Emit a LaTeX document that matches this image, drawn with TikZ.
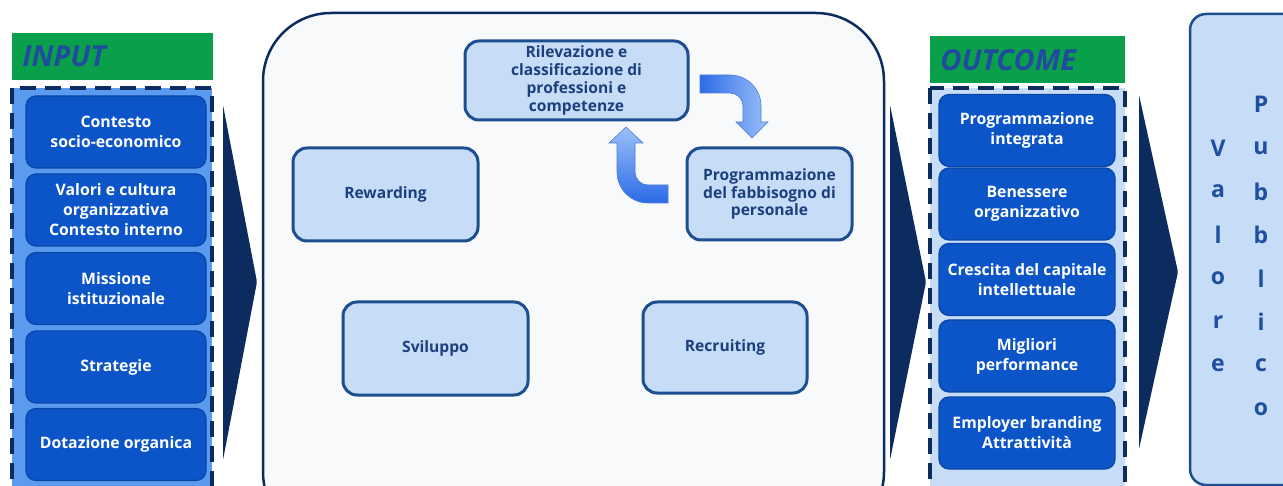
\documentclass[tikz,border=0pt]{standalone}
\usepackage{fontspec}
\setmainfont{Open Sans}
\definecolor{headgreen}{HTML}{0AA04B}
\definecolor{headtext}{HTML}{1F4C9E}
\definecolor{navy}{HTML}{0C2B5E}
\definecolor{inblue}{HTML}{5A9BEF}
\definecolor{paleblue}{HTML}{C6DCF7}
\definecolor{boxblue}{HTML}{0B55C9}
\definecolor{boxline}{HTML}{0A46A6}
\definecolor{cycleline}{HTML}{1D4F90}
\definecolor{cycletext}{HTML}{1E3F7E}
\definecolor{framefill}{HTML}{F8F9FB}
\definecolor{arrowdark}{HTML}{2A6BE6}
\definecolor{arrowlight}{HTML}{9CC0F8}
\definecolor{arrowline}{HTML}{4A7FD8}
\definecolor{letterblue}{HTML}{1F4F9F}

\begin{document}
\begin{tikzpicture}[x=1pt,y=-1pt,thick,
  head/.style={fill=headgreen,minimum height=47pt,inner xsep=10pt,text=headtext,
    font=\bfseries\itshape\fontsize{29}{32}\selectfont,anchor=west},
  frame/.style={draw=navy,line width=4pt,dash pattern=on 16pt off 9pt},
  dark/.style={draw=boxline,fill=boxblue,rounded corners=10pt,line width=1.2pt,text=white,
    font=\bfseries\fontsize{15.8}{20}\selectfont,align=center,minimum height=72pt},
  light/.style={draw=cycleline,fill=paleblue,rounded corners=14pt,line width=3pt,text=cycletext,
    font=\bfseries\fontsize{15.6}{17.8}\selectfont,align=center},
  chevron/.style={fill=navy,rounded corners=2pt},
  loopbend/.style={draw=arrowline,line width=0.6pt},
  letter/.style={text=letterblue,font=\bfseries\fontsize{23}{26}\selectfont}]

  \useasboundingbox (0,0) rectangle (1283,486);
  \clip (0,0) rectangle (1283,486);

  % input column
  \node[head,minimum width=201pt,text width=181pt] (in_head) at (12,56.5) {INPUT};
  \draw[frame,fill=inblue] (12,88) rectangle (212,500);
  \node[dark,minimum width=180pt] (in1) at (116,132) {Contesto\\socio-economico};
  \node[dark,minimum width=180pt] (in2) at (116,210) {Valori e cultura\\organizzativa\\Contesto interno};
  \node[dark,minimum width=180pt] (in3) at (116,288.5) {Missione\\istituzionale};
  \node[dark,minimum width=180pt] (in4) at (116,367) {Strategie};
  \node[dark,minimum width=180pt] (in5) at (116,444.5) {Dotazione organica};

  \fill[chevron] (223,105) -- (257,282) -- (223,460) -- cycle;

  % central cycle
  \draw[draw=navy,fill=framefill,line width=2.5pt,rounded corners=68pt] (263,13) rectangle (884,540);
  \node[light,minimum width=223pt,minimum height=79pt] (ril) at (576.5,80.5)
    {Rilevazione e\\classificazione di\\professioni e\\competenze};
  \node[light,minimum width=165pt,minimum height=92pt] (fabb) at (769.5,194)
    {Programmazione\\del fabbisogno di\\personale};
  \node[light,minimum width=185pt,minimum height=93pt] (rew) at (385.5,194.5) {Rewarding};
  \node[light,minimum width=185pt,minimum height=93pt] (svi) at (435.5,348.5) {Sviluppo};
  \node[light,minimum width=164pt,minimum height=91pt] (rec) at (725,347.5) {Recruiting};

  \draw[loopbend,left color=arrowdark,right color=arrowlight]
    (700,75) -- (730,75) arc[start angle=-90,end angle=0,radius=31] -- (761,122) -- (768,122)
    -- (752,138) -- (736,122) -- (743,122) -- (743,106) arc[start angle=0,end angle=-90,radius=13]
    -- (700,93) -- cycle;
  \draw[loopbend,top color=arrowlight,bottom color=arrowdark]
    (668,185) -- (648,185) arc[start angle=90,end angle=180,radius=13] -- (635,143) -- (643,143)
    -- (626,127) -- (609,143) -- (617,143) -- (617,172) arc[start angle=180,end angle=90,radius=31]
    -- (668,203) -- cycle;

  \fill[chevron] (890,105) -- (926,282) -- (890,460) -- cycle;

  % outcome column
  \node[head,minimum width=195pt,text width=175pt] (out_head) at (930,60) {OUTCOME};
  \draw[frame,fill=paleblue] (930,88) rectangle (1125,500);
  \node[dark,minimum width=176pt] (out1) at (1027,130.5) {Programmazione\\integrata};
  \node[dark,minimum width=176pt] (out2) at (1027,204) {Benessere\\organizzativo};
  \node[dark,minimum width=176pt] (out3) at (1027,279.5) {Crescita del capitale\\intellettuale};
  \node[dark,minimum width=176pt] (out4) at (1027,356) {Migliori\\performance};
  \node[dark,minimum width=176pt] (out5) at (1027,433) {Employer branding\\Attrattività};

  \fill[chevron] (1139,95) -- (1178,272) -- (1139,449) -- cycle;

  % valore pubblico
  \draw[draw=cycleline,fill=paleblue,line width=2.5pt,rounded corners=16pt] (1190,14) rectangle (1320,485);
  \foreach \c [count=\i] in {V,a,l,o,r,e}
    \node[letter] (val\i) at (1218,104.5+43.5*\i) {\c};
  \foreach \c [count=\i] in {P,u,b,b,l,i,c,o}
    \node[letter] (pub\i) at (1261,61+43.5*\i) {\c};

\end{tikzpicture}
\end{document}
